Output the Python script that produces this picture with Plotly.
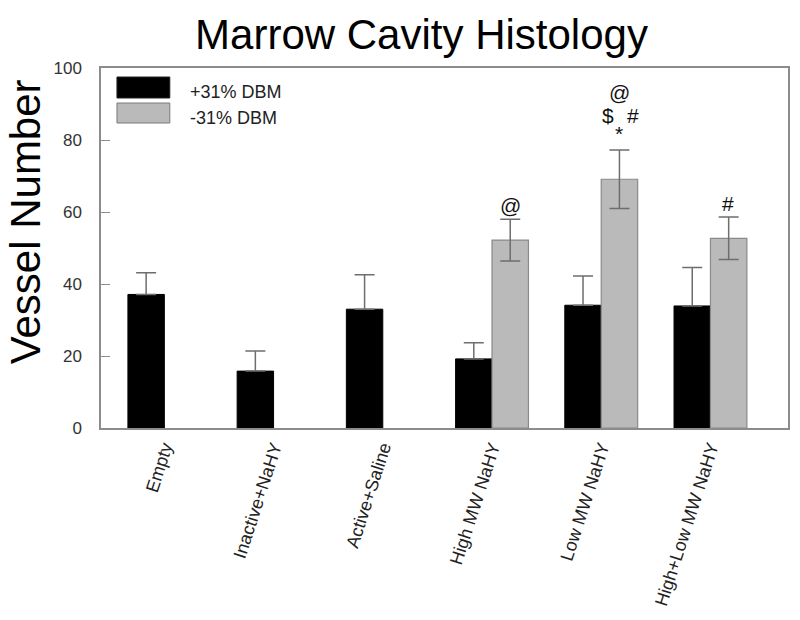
import plotly.graph_objects as go

categories = ["Empty", "Inactive+NaHY", "Active+Saline", "High MW NaHY", "Low MW NaHY", "High+Low MW NaHY"]
plus_dbm = [37.1, 15.8, 33.0, 19.2, 34.1, 33.9]
plus_dbm_err = [6.0, 5.6, 9.6, 4.5, 8.1, 10.7]
minus_dbm = [None, None, None, 52.2, 69.1, 52.7]
minus_dbm_err = [None, None, None, 5.8, 8.1, 5.9]
series_names = ["+31% DBM", "-31% DBM"]
y_ticks = [0, 20, 40, 60, 80, 100]

FONT = "Liberation Sans, Arial, Helvetica, sans-serif"
ERR_COLOR = "#6e6e6e"

fig = go.Figure()
fig.add_trace(go.Bar(
    x=categories, y=plus_dbm, name=series_names[0],
    marker=dict(color="black", line=dict(color="black", width=1)),
    error_y=dict(type="data", symmetric=False, array=plus_dbm_err,
                 arrayminus=[0] * len(plus_dbm_err),
                 color=ERR_COLOR, thickness=1.5, width=10),
    showlegend=False,
))
fig.add_trace(go.Bar(
    x=categories, y=minus_dbm, name=series_names[1],
    marker=dict(color="#bababa", line=dict(color="#8a8a8a", width=1.2)),
    error_y=dict(type="data", symmetric=True, array=minus_dbm_err,
                 color=ERR_COLOR, thickness=1.5, width=10),
    showlegend=False,
))

# significance markers above the grey bars
marks = [
    (3, "@", 14),
    (4, "*", 17),
    (4, "$", 35),
    (4, "#", 35),
    (4, "@", 58),
    (5, "#", 14),
]
xshift_extra = {(4, "$"): -11, (4, "#"): 14}
annotations = []
for idx, txt, ys in marks:
    top = minus_dbm[idx] + minus_dbm_err[idx]
    annotations.append(dict(
        x=categories[idx], y=top, xref="x", yref="y", text=txt,
        showarrow=False, xanchor="center", yanchor="middle",
        xshift=18 + xshift_extra.get((idx, txt), 0), yshift=ys,
        font=dict(family=FONT, size=21, color="#111"),
    ))

# legend drawn as swatches + text
shapes = [
    dict(type="rect", xref="paper", yref="paper",
         x0=(117 - 101) / 689, x1=(170 - 101) / 689,
         y0=(428 - 98) / 360, y1=(428 - 77) / 360,
         fillcolor="black", line=dict(color="#222", width=1)),
    dict(type="rect", xref="paper", yref="paper",
         x0=(117 - 101) / 689, x1=(170 - 101) / 689,
         y0=(428 - 123) / 360, y1=(428 - 103) / 360,
         fillcolor="#bababa", line=dict(color="#7a7a7a", width=1)),
]
for name, yc in zip(series_names, [92, 118]):
    annotations.append(dict(
        x=(188 - 101) / 689, y=(428 - yc) / 360, xref="paper", yref="paper",
        text=name, showarrow=False, xanchor="left", yanchor="middle",
        font=dict(family=FONT, size=18, color="#222"),
    ))

# y axis title
annotations.append(dict(
    x=(25 - 101) / 689, y=(428 - 222) / 360, xref="paper", yref="paper",
    text="Vessel Number", textangle=-90, showarrow=False,
    xanchor="center", yanchor="middle",
    font=dict(family=FONT, size=42, color="black"),
))

fig.update_layout(
    width=800, height=620,
    margin=dict(l=101, r=10, t=68, b=192),
    paper_bgcolor="white", plot_bgcolor="white",
    barmode="group", bargap=0.333, bargroupgap=0,
    title=dict(text="Marrow Cavity Histology", x=421.5 / 800, xref="container",
               xanchor="center", y=1 - 34 / 620, yref="container", yanchor="middle",
               font=dict(family=FONT, size=42, color="black")),
    annotations=annotations,
    shapes=shapes,
    showlegend=False,
    font=dict(family=FONT),
)
fig.update_xaxes(
    range=[-0.58, 5.71], showline=True, linecolor="#8c8c8c", linewidth=1.5,
    mirror=True, ticks="", tickangle=-72,
    tickfont=dict(family=FONT, size=18, color="#222"),
    showgrid=False, zeroline=False,
)
fig.update_yaxes(
    range=[0, 100], tickvals=y_ticks, showline=True, linecolor="#8c8c8c",
    linewidth=1.5, mirror=True, ticks="inside", ticklen=9, tickcolor="#8c8c8c",
    tickwidth=1.2, ticklabelstandoff=14,
    tickfont=dict(family=FONT, size=17, color="#333"),
    showgrid=False, zeroline=False,
)

fig.write_html("out.html", config={"displayModeBar": False},
               post_script="document.body.style.margin='0';")
